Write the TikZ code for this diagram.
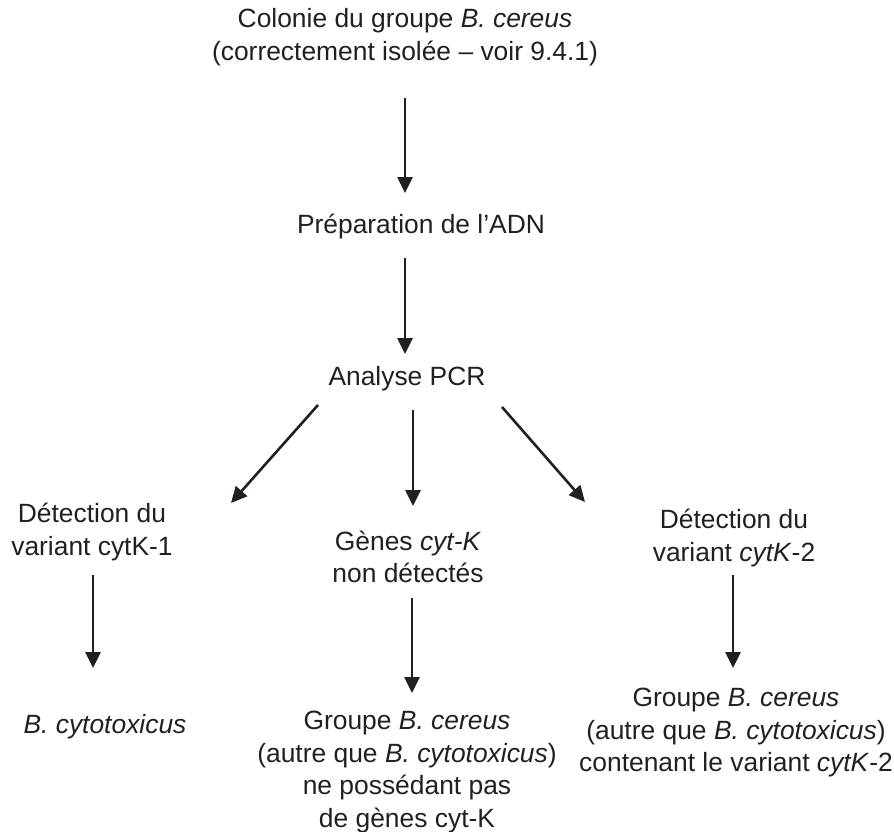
\documentclass[tikz,border=0pt]{standalone}
\usepackage{fontspec}
\setmainfont{Liberation Sans}
\usepackage{tikz}
\usetikzlibrary{arrows.meta, positioning}
\definecolor{mydark}{RGB}{35,31,32}
\tikzset{
  txt/.style={align=center, inner sep=0pt, text=mydark,
    font=\fontsize{26.4}{32.5}\selectfont},
  arrow/.style={-{Triangle[length=16pt, width=15pt]}, line width=2.6pt, color=mydark}
}

\begin{document}
\begin{tikzpicture}[x=1pt, y=-1pt]
  \useasboundingbox (0,0) rectangle (894,832);
  % main column
  \node[txt] (colonie) at (405,37) {Colonie du groupe \textit{B. cereus}\\(correctement isolée -- voir 9.4.1)};
  \node[txt] (prep) at (421,227) {Préparation de l’ADN};
  \node[txt] (pcr) at (407,379) {Analyse PCR};
  % three outcomes
  \node[txt] (det1) at (92,532) {Détection du\\variant cytK-1};
  \node[txt] (genes) at (408,557) {Gènes \textit{cyt-K}\\non détectés};
  \node[txt] (det2) at (734,538) {Détection du\\variant \textit{cytK}-2};
  % conclusions
  \node[txt] (cyto) at (105,727) {\textit{B. cytotoxicus}};
  \node[txt] (grpA) at (407,772) {Groupe \textit{B. cereus}\\(autre que \textit{B. cytotoxicus})\\ne possédant pas\\de gènes cyt-K};
  \node[txt] (grpB) at (736,733) {Groupe \textit{B. cereus}\\(autre que \textit{B. cytotoxicus})\\contenant le variant \textit{cytK}-2};
  % arrows
  \draw[arrow] ([shift={(0,61)}]colonie.center) -- ([shift={(-16,-34)}]prep.center);
  \draw[arrow] ([shift={(-16,31)}]prep.center) -- ([shift={(-2,-25)}]pcr.center);
  \draw[arrow] ([shift={(-89,26)}]pcr.center) -- ([shift={(139,-29)}]det1.center);
  \draw[arrow] ([shift={(6,31)}]pcr.center) -- ([shift={(5,-51)}]genes.center);
  \draw[arrow] ([shift={(95,28)}]pcr.center) -- ([shift={(-149,-36)}]det2.center);
  \draw[arrow] ([shift={(1,43)}]det1.center) -- ([shift={(-12,-59)}]cyto.center);
  \draw[arrow] ([shift={(4,41)}]genes.center) -- ([shift={(5,-79)}]grpA.center);
  \draw[arrow] ([shift={(-1,37)}]det2.center) -- ([shift={(-3,-65)}]grpB.center);
\end{tikzpicture}
\end{document}
